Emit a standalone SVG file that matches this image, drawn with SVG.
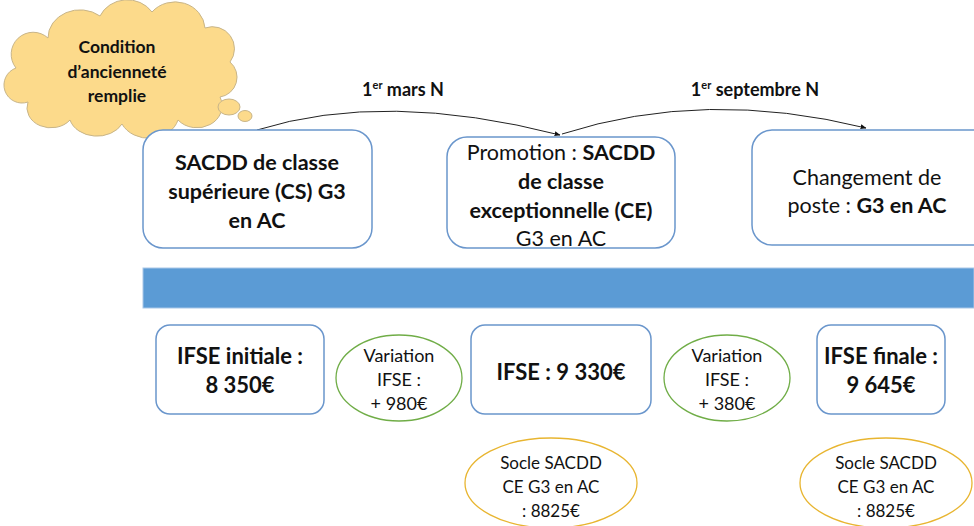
<svg xmlns="http://www.w3.org/2000/svg" width="974" height="526" viewBox="0 0 974 526">
<defs>
<style>
text{font-family:Lato,"Open Sans","Liberation Sans",sans-serif;fill:#111;text-anchor:middle}
.b{font-weight:bold}
.top{font-size:21.5px}
.low{font-size:22px;font-weight:bold}
.sm{font-size:18px}
.so{font-size:17px}
.cl{font-size:17.5px;font-weight:bold}
.lbl{font-size:18px;font-weight:bold}
.box{fill:#fff;stroke:#6A96CC;stroke-width:1.5}
.circ{fill:#fff;stroke:#70AD47;stroke-width:1.3}
.socle{fill:#fff;stroke:#E8B530;stroke-width:1.3}
.conn{fill:none;stroke:#222;stroke-width:1}
</style>
<marker id="arr" viewBox="0 0 10 10" refX="9" refY="5" markerWidth="6" markerHeight="6" orient="auto-start-reverse">
<path d="M0,1 L10,5 L0,9 z" fill="#111"/>
</marker>
</defs>
<rect width="974" height="526" fill="#fff"/>

<g id="cloud">
<path d="M 28,102 A 18,18 0 0 1 16,68 A 22,22 0 0 1 48,38 A 32,28 0 0 1 100,16 A 30,28 0 0 1 152,12 A 30,28 0 0 1 205,28 A 22,22 0 0 1 230,62 A 20,20 0 0 1 220,97 A 25,22 0 0 1 178,120 A 30,25 0 0 1 122,124 A 28,22 0 0 1 70,120 A 24,20 0 0 1 28,102 Z" fill="#FCDA8B" stroke="#C8B589" stroke-width="1"/>
<ellipse cx="229" cy="107" rx="11" ry="8" fill="#FCDA8B" stroke="#C8B589" stroke-width="1"/>
<ellipse cx="245" cy="116" rx="7" ry="5.5" fill="#FCDA8B" stroke="#C8B589" stroke-width="1"/>
<text x="117" y="53" class="cl">Condition</text>
<text x="117" y="78" class="cl">d’ancienneté</text>
<text x="117" y="102" class="cl">remplie</text>
</g>

<g id="connectors">
<path class="conn" d="M 257,130 Q 385,90 560,135" marker-end="url(#arr)"/>
<path class="conn" d="M 562,134 Q 705,88 866,128" marker-end="url(#arr)"/>
<text x="403" y="96" class="lbl">1<tspan dy="-7" font-size="11">er</tspan><tspan dy="7"> mars N</tspan></text>
<text x="755" y="96" class="lbl">1<tspan dy="-7" font-size="11">er</tspan><tspan dy="7"> septembre N</tspan></text>
</g>

<g id="box-cs">
<rect class="box" x="143" y="130" width="229" height="118" rx="20"/>
<text x="257" y="170" class="top b">SACDD de classe</text>
<text x="257" y="199" class="top b">supérieure (CS) G3</text>
<text x="257" y="228" class="top b">en AC</text>
</g>

<g id="box-ce">
<rect class="box" x="447" y="137" width="228" height="111" rx="20"/>
<text x="561" y="160" class="top">Promotion : <tspan class="b">SACDD</tspan></text>
<text x="561" y="189" class="top b">de classe</text>
<text x="561" y="218" class="top b">exceptionnelle (CE)</text>
<text x="561" y="246" class="top">G3 en AC</text>
</g>

<g id="box-poste">
<rect class="box" x="752" y="130" width="240" height="115" rx="20"/>
<text x="867" y="185" class="top">Changement de</text>
<text x="867" y="213" class="top">poste : <tspan class="b">G3 en AC</tspan></text>
</g>

<g id="bar">
<rect x="143" y="268" width="831" height="40" fill="#5B9BD5" stroke="#A9C7E8" stroke-width="1"/>
</g>

<g id="ifse-initiale">
<rect class="box" x="156" y="325" width="168" height="89" rx="14"/>
<text x="240" y="364" class="low">IFSE initiale :</text>
<text x="240" y="393" class="low">8 350€</text>
</g>

<g id="variation-1">
<ellipse class="circ" cx="399" cy="378" rx="63" ry="43"/>
<text x="399" y="362" class="sm">Variation</text>
<text x="399" y="386" class="sm">IFSE :</text>
<text x="399" y="410" class="sm">+ 980€</text>
</g>

<g id="ifse-ce">
<rect class="box" x="471" y="325" width="180" height="89" rx="14"/>
<text x="561" y="380" class="low">IFSE : 9 330€</text>
</g>

<g id="variation-2">
<ellipse class="circ" cx="727" cy="378" rx="63" ry="43"/>
<text x="727" y="362" class="sm">Variation</text>
<text x="727" y="386" class="sm">IFSE :</text>
<text x="727" y="410" class="sm">+ 380€</text>
</g>

<g id="ifse-finale">
<rect class="box" x="817" y="325" width="128" height="89" rx="14"/>
<text x="881" y="364" class="low">IFSE finale :</text>
<text x="881" y="393" class="low">9 645€</text>
</g>

<g id="socle-1">
<ellipse class="socle" cx="551" cy="483" rx="86" ry="45"/>
<text x="551" y="469" class="so">Socle SACDD</text>
<text x="551" y="493" class="so">CE G3 en AC</text>
<text x="551" y="517" class="so">: 8825€</text>
</g>

<g id="socle-2">
<ellipse class="socle" cx="886" cy="483" rx="86" ry="45"/>
<text x="886" y="469" class="so">Socle SACDD</text>
<text x="886" y="493" class="so">CE G3 en AC</text>
<text x="886" y="517" class="so">: 8825€</text>
</g>
</svg>
